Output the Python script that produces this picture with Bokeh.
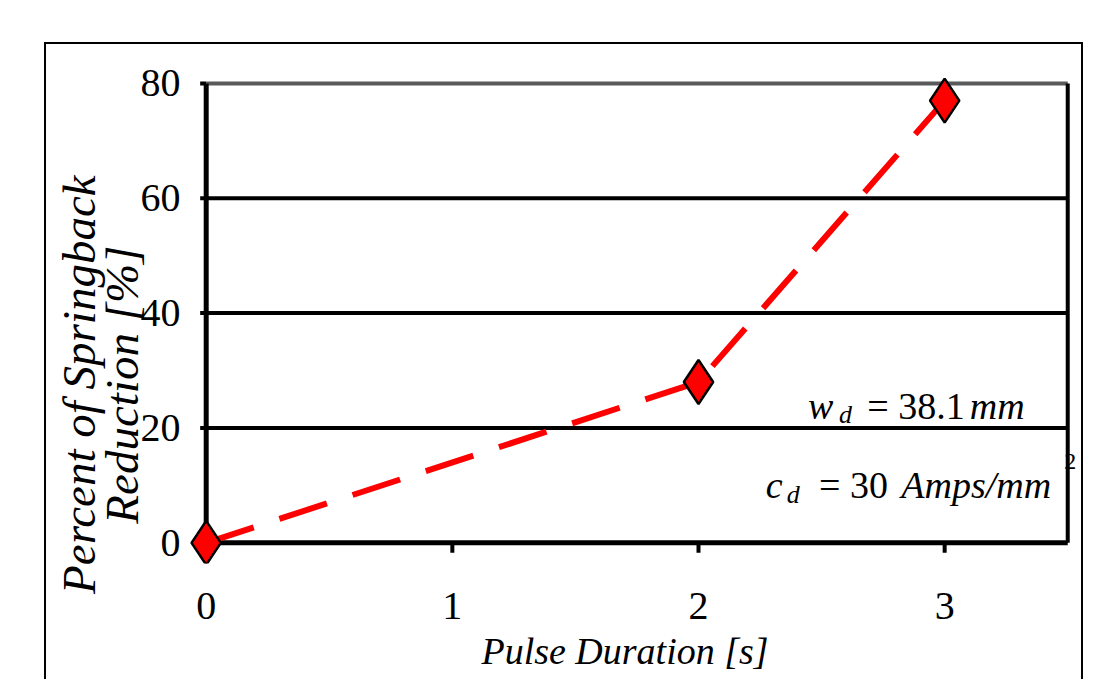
from bokeh.plotting import figure
from bokeh.models import FixedTicker, Label, Range1d
from bokeh.embed import file_html
from bokeh.resources import INLINE

# ---- data ----
pulse_duration = [0, 2, 3]
springback_reduction = [0, 28, 77]
x_ticks = [0, 1, 2, 3]
y_ticks = [0, 20, 40, 60, 80]
x_max = 3.5
y_max = 80
x_title = "Pulse Duration [s]"
y_title_lines = ["Percent of Springback", "Reduction [%]"]

FONT = "'Liberation Serif', serif"

p = figure(width=1039, height=637, output_backend="svg", toolbar_location=None,
           x_range=Range1d(-0.08, 3.56), y_range=Range1d(-3.6, 81.2),
           min_border_left=140, min_border_right=3, min_border_top=32,
           min_border_bottom=118)
p.styles = {"margin-left": "44px", "margin-top": "42px",
            "border-left": "2px solid black", "border-top": "2px solid black",
            "border-right": "2px solid black"}
p.outline_line_color = None
p.grid.grid_line_color = None
p.background_fill_color = "white"
p.border_fill_color = "white"

for ax in (p.xaxis[0], p.yaxis[0]):
    ax.axis_line_color = None
    ax.major_tick_line_color = None
    ax.minor_tick_line_color = None
    ax.major_tick_in = 0
    ax.major_tick_out = 0
    ax.major_label_text_font = FONT
    ax.major_label_text_font_size = "40px"
    ax.major_label_text_color = "black"
    ax.axis_label_text_font = FONT
    ax.axis_label_text_font_style = "italic"
    ax.axis_label_text_color = "black"

p.xaxis.ticker = FixedTicker(ticks=x_ticks)
p.yaxis.ticker = FixedTicker(ticks=y_ticks)
p.xaxis.major_label_standoff = 29
p.yaxis.major_label_standoff = 6

p.xaxis.axis_label = x_title + "\u00a0\u00a0"
p.xaxis.axis_label_text_font_size = "38px"
p.xaxis.axis_label_standoff = 8

pad = "\u00a0" * 11  # shifts the centred two-line title down along the axis
p.yaxis.axis_label = "\n".join(line + pad for line in y_title_lines)
p.yaxis.axis_label_text_font_size = "47px"
p.yaxis.axis_label_text_line_height = 0.82
p.yaxis.axis_label_standoff = -10

# horizontal grid lines from the y ticks (top one grey) and right frame line
grid_vals = y_ticks[1:]
p.segment(x0=[0] * len(grid_vals), x1=[x_max] * len(grid_vals),
          y0=grid_vals, y1=grid_vals,
          line_color=["black"] * (len(grid_vals) - 1) + ["#5a5a5a"], line_width=4)
p.segment(x0=[x_max], x1=[x_max], y0=[0], y1=[y_max], line_color="black", line_width=4)

# tick marks (outside) and axis lines through the origin
ytick_len = 6 / 245
xtick_len = 10 / 5.72
p.segment(x0=[-ytick_len] * len(y_ticks), x1=[0] * len(y_ticks), y0=y_ticks, y1=y_ticks,
          line_color="black", line_width=4)
p.segment(x0=x_ticks, x1=x_ticks, y0=[0] * len(x_ticks), y1=[-xtick_len] * len(x_ticks),
          line_color="black", line_width=4)
p.segment(x0=[0, 0], x1=[0, x_max], y0=[0, 0], y1=[y_max, 0],
          line_color="black", line_width=5)

# data line and markers
p.line(pulse_duration, springback_reduction, line_color="#ff0000", line_width=6,
       line_dash="50 27")
p.scatter(pulse_duration, springback_reduction, marker="diamond", size=44,
          fill_color="#ff0000", line_color="black", line_width=2.5)

def lab(x, y, text, size, style="normal"):
    p.add_layout(Label(x=x, y=y, text=text, text_font=FONT, text_font_size=size,
                       text_font_style=style, text_color="black",
                       text_align="left", text_baseline="alphabetic"))

# parameter annotations
lab(2.445, 23.8, "w", "38px", "italic")
lab(2.571, 22.4, "d", "26px", "italic")
lab(2.686, 23.8, "= 38.1", "38px")
lab(3.102, 23.8, "mm", "38px", "italic")
lab(2.273, 10.1, "c", "38px", "italic")
lab(2.359, 8.5, "d", "26px", "italic")
lab(2.49, 10.1, "= 30", "38px")
lab(2.824, 10.1, "Amps/mm", "38px", "italic")
lab(3.486, 14.2, "2", "24px")

open("out.html", "w").write(file_html(p, INLINE))
